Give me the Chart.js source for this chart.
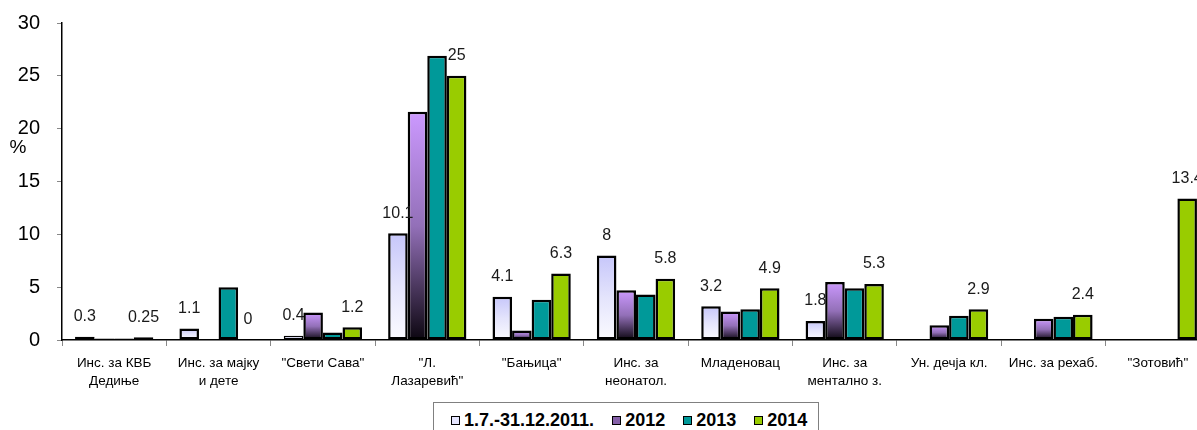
<!DOCTYPE html>
<html>
<head>
<meta charset="utf-8">
<script src="https://cdn.jsdelivr.net/npm/chart.js@4.4.0/dist/chart.umd.min.js"></script>
<style>
body { margin: 0; background: #fff; font-family: Arial, "Liberation Sans", sans-serif; }
#wrap { position: relative; width: 1197px; height: 430px; overflow: hidden; }
#chart { position: absolute; left: 0; top: 0; }
#legend { position: absolute; left: 433px; top: 402px; width: 386px; height: 40px; border: 1px solid #808080;
  background: #fff; display: flex; align-items: flex-start; padding-top: 6px; box-sizing: border-box;
  font-weight: bold; font-size: 18px; line-height: 22px; color: #000; }
#legend .item { display: flex; align-items: center; margin-right: 18px; }
#legend .item:first-child { margin-left: 17px; }
#legend .mark { display: inline-block; width: 7px; height: 7px; border: 1.5px solid #000; margin-right: 4px; }
</style>
</head>
<body>
<div id="wrap">
  <canvas id="chart" width="1210" height="430"></canvas>
  <div id="legend"></div>
</div>
<script>
'use strict';
const categories = [
    ['Инс. за КВБ', 'Дедиње'],
    ['Инс. за мајку', 'и дете'],
    '"Свети Сава"',
    ['"Л.', 'Лазаревић"'],
    '"Бањица"',
    ['Инс. за', 'неонатол.'],
    'Младеновац',
    ['Инс. за', 'ментално з.'],
    'Ун. дечја кл.',
    'Инс. за рехаб.',
    '"Зотовић"',
];
const seriesNames = ['1.7.-31.12.2011.', '2012', '2013', '2014'];
const values2011 = [0.3, 1.1, 0.4, 10.1, 4.1, 8, 3.2, 1.8, null, null, null];
const values2012 = [0.15, null, 2.6, 21.6, 0.9, 4.7, 2.7, 5.5, 1.4, 2.0, null];
const values2013 = [0.15, 5.0, 0.7, 26.9, 3.8, 4.3, 2.9, 4.9, 2.3, 2.2, null];
const values2014 = [0.25, 0, 1.2, 25, 6.3, 5.8, 4.9, 5.3, 2.9, 2.4, 13.4];
const yMin = 0;
const yMax = 30;
const yStep = 5;
// only these series get value labels in the original
const labelledSeries = [0, 3];

const legendColors = ['#e6e6ff', '#8560a8', '#009999', '#99cc00'];

function gradient(top, mid, bottom) {
    return function (ctx) {
        const chart = ctx.chart;
        const v = ctx.raw;
        if (!chart.chartArea || v === null || v === undefined) {
            return top;
        }
        const y = chart.scales.y;
        const g = chart.ctx.createLinearGradient(0, y.getPixelForValue(v), 0, y.getPixelForValue(0));
        g.addColorStop(0, top);
        g.addColorStop(0.5, mid);
        g.addColorStop(1, bottom);
        return g;
    };
}

function borderFor(ctx) {
    if (ctx.raw === 0) return 0;
    // very short bars: thinner edge so the fill still shows
    return ctx.raw < 0.5 ? 1.5 : 2.5;
}

const valueLabels = {
    id: 'valueLabels',
    afterDatasetsDraw(chart) {
        const c = chart.ctx;
        c.save();
        c.font = '16px Arial, "Liberation Sans"';
        c.fillStyle = '#1a1a1a';
        c.textAlign = 'center';
        c.textBaseline = 'middle';
        labelledSeries.forEach(function (d) {
            const meta = chart.getDatasetMeta(d);
            const data = chart.data.datasets[d].data;
            meta.data.forEach(function (bar, i) {
                if (data[i] === null) return;
                c.fillText(String(data[i]), bar.x, bar.y - 20);
            });
        });
        c.font = '19px Arial, "Liberation Sans"';
        c.fillStyle = '#000';
        c.fillText('%', 18, 148);
        c.restore();
    }
};

const datasets = [
    { label: seriesNames[0], data: values2011, backgroundColor: gradient('#c6c6fa', '#e4e4fc', '#fbfbff') },
    { label: seriesNames[1], data: values2012, backgroundColor: gradient('#cc99ff', '#9370b8', '#0c0610') },
    { label: seriesNames[2], data: values2013, backgroundColor: '#009999' },
    { label: seriesNames[3], data: values2014, backgroundColor: '#99cc00' },
];
datasets.forEach(function (ds) {
    ds.borderColor = '#000';
    ds.borderWidth = borderFor;
    ds.borderSkipped = false;
    ds.categoryPercentage = 0.75;
    ds.barPercentage = 1.0;
});

const chart = new Chart(document.getElementById('chart'), {
    type: 'bar',
    data: { labels: categories, datasets: datasets },
    options: {
        responsive: false,
        animation: false,
        layout: { padding: { top: 23, right: 0, left: 0, bottom: 0 } },
        plugins: { legend: { display: false }, tooltip: { enabled: false } },
        scales: {
            x: {
                grid: { offset: true, drawOnChartArea: false, tickLength: 6, color: '#888' },
                border: { color: '#000', width: 1.5 },
                ticks: {
                    color: '#000',
                    font: { size: 13.5, family: 'Arial, "Liberation Sans"', lineHeight: 1.33 },
                    maxRotation: 0,
                    autoSkip: false,
                    padding: 8
                },
                afterFit(s) { s.height = 90; }
            },
            y: {
                min: yMin,
                max: yMax,
                ticks: { stepSize: yStep, color: '#000', font: { size: 20, family: 'Arial, "Liberation Sans"' }, padding: 17 },
                grid: { drawOnChartArea: false, tickLength: 5, color: '#888' },
                border: { color: '#000', width: 1.5 },
                afterFit(s) {
                    s.width = 62;
                    s.paddingTop = 0;
                    s.paddingBottom = 0;
                }
            }
        }
    },
    plugins: [valueLabels]
});

// legend drawn as html so it can sit where the original box is
const legend = document.getElementById('legend');
for (let i = 0; i < seriesNames.length; i++) {
    const item = document.createElement('span');
    item.className = 'item';
    const mark = document.createElement('span');
    mark.className = 'mark';
    mark.style.background = legendColors[i];
    item.appendChild(mark);
    item.appendChild(document.createTextNode(seriesNames[i]));
    legend.appendChild(item);
}
</script>
</body>
</html>
